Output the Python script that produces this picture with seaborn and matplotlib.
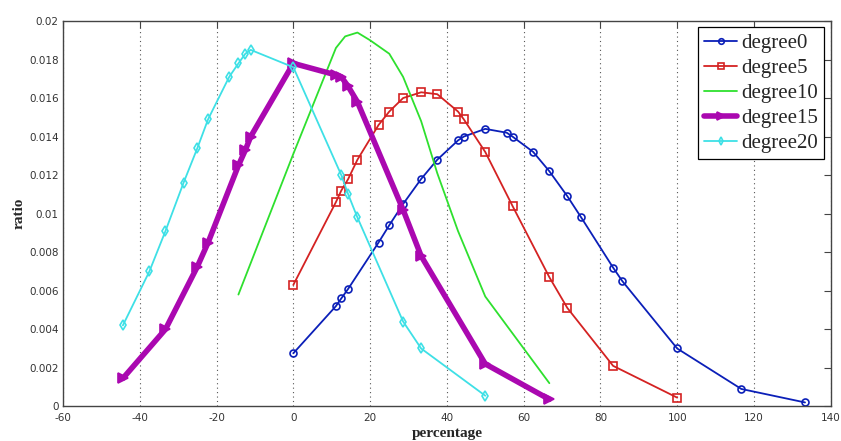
import numpy as np
import pandas as pd
import seaborn as sns
import matplotlib.pyplot as plt
from matplotlib.ticker import FuncFormatter


# Data
deg0_x = [0, 11.1, 12.5, 14.3, 22.2, 25, 28.6, 33.3, 37.5, 42.9, 44.4, 50, 55.6, 57.1,
          62.5, 66.7, 71.4, 75, 83.3, 85.7, 100, 116.7, 133.3]
deg0_y = [0.00275, 0.0052, 0.0056, 0.0061, 0.0085, 0.0094, 0.0105, 0.0118, 0.0128, 0.0138,
          0.0140, 0.0144, 0.0142, 0.0140, 0.0132, 0.0122, 0.0109, 0.0098, 0.0072, 0.0065,
          0.0030, 0.0009, 0.0002]

deg5_x = [0, 11.1, 12.5, 14.3, 16.7, 22.2, 25, 28.6, 33.3, 37.5, 42.9, 44.4, 50, 57.1,
          66.7, 71.4, 83.3, 100]
deg5_y = [0.0063, 0.0106, 0.0112, 0.0118, 0.0128, 0.0146, 0.0153, 0.0160, 0.0163, 0.0162,
          0.0153, 0.0149, 0.0132, 0.0104, 0.0067, 0.0051, 0.0021, 0.00045]

deg10_x = [-14.3, 0, 11.1, 13.5, 16.7, 20, 25, 28.6, 33.3, 37.5, 42.9, 50, 66.7]
deg10_y = [0.0058, 0.0131, 0.0186, 0.0192, 0.0194, 0.0190, 0.0183, 0.0171, 0.0148, 0.0121,
           0.0091, 0.0057, 0.0012]

deg15_x = [-44.4, -33.3, -25, -22.2, -14.3, -12.5, -11.1, 0, 11.1, 12.5, 14.3, 16.7,
           28.6, 33.3, 50, 66.7]
deg15_y = [0.00145, 0.0040, 0.00725, 0.0085, 0.0125, 0.0133, 0.0140, 0.0178, 0.0172,
           0.0171, 0.0166, 0.0158, 0.0102, 0.0078, 0.0022, 0.00036]

deg20_x = [-44.4, -37.5, -33.3, -28.6, -25, -22.2, -16.7, -14.3, -12.5, -11.1, 0, 12.5,
           14.3, 16.7, 28.6, 33.3, 50]
deg20_y = [0.0042, 0.0070, 0.0091, 0.0116, 0.0134, 0.0149, 0.0171, 0.0178, 0.0183, 0.0185,
           0.0176, 0.0120, 0.0110, 0.0098, 0.0044, 0.0030, 0.00055]

labels = ['degree0', 'degree5', 'degree10', 'degree15', 'degree20']


sns.set_style('white')
plt.rcParams['font.family'] = ['DejaVu Sans']
plt.rcParams['axes.unicode_minus'] = False

fig = plt.figure(figsize=(8.41, 4.41), dpi=100)
ax = fig.add_axes([0.0749, 0.0787, 0.9129, 0.8737])

# style per series: color, marker, linewidth, markersize, filled
styles = [
    ('#0b1fb8', 'o', 1.3, 5, False),
    ('#d42222', 's', 1.3, 6, False),
    ('#2ee02e', None, 1.3, 0, False),
    ('#aa08b0', '>', 4.0, 6.5, True),
    ('#3ee0e6', 'd', 1.3, 5, False),
]
series = [(deg0_x, deg0_y), (deg5_x, deg5_y), (deg10_x, deg10_y),
          (deg15_x, deg15_y), (deg20_x, deg20_y)]

for (xs, ys), lab, (c, m, lw, ms, filled) in zip(series, labels, styles):
    df = pd.DataFrame({'percentage': xs, 'ratio': ys})
    kw = dict(color=c, linewidth=lw, label=lab, ax=ax, sort=False, estimator=None)
    if m is not None:
        kw.update(marker=m, markersize=ms, markeredgecolor=c, markeredgewidth=1.2,
                  markerfacecolor=c if filled else 'none')
    sns.lineplot(data=df, x='percentage', y='ratio', **kw)

ax.set_xlim(-60, 140)
ax.set_ylim(0, 0.02)
ax.set_xticks(np.arange(-60, 141, 20))
ax.set_yticks(np.arange(0, 0.0201, 0.002))
ax.yaxis.set_major_formatter(FuncFormatter(lambda v, p: '%g' % round(v, 4)))

ax.xaxis.grid(True, linestyle=(0, (1, 3)), color='#555555', linewidth=0.8)
ax.yaxis.grid(False)

ax.tick_params(direction='in', length=5, width=0.8, top=True, right=True,
               labelsize=7.5, labelcolor='#333333', color='#444444')
ax.tick_params(axis='x', pad=5)
ax.tick_params(axis='y', pad=3)
for s in ax.spines.values():
    s.set_color('#444444')
    s.set_linewidth(1.0)

ax.set_xlabel('percentage', fontfamily='Liberation Serif', fontweight='bold',
              fontsize=11, labelpad=3)
ax.set_ylabel('ratio', fontfamily='Liberation Serif', fontweight='bold',
              fontsize=11, labelpad=3)

leg = ax.legend(loc='upper right', prop={'family': 'Liberation Serif', 'size': 15},
                fancybox=False, edgecolor='black', framealpha=1, handlelength=1.6,
                handletextpad=0.2, labelspacing=0.26, borderpad=0.3,
                borderaxespad=0.3, markerscale=0.8)
leg.get_frame().set_linewidth(0.9)

fig.savefig('out.png', dpi=100)
